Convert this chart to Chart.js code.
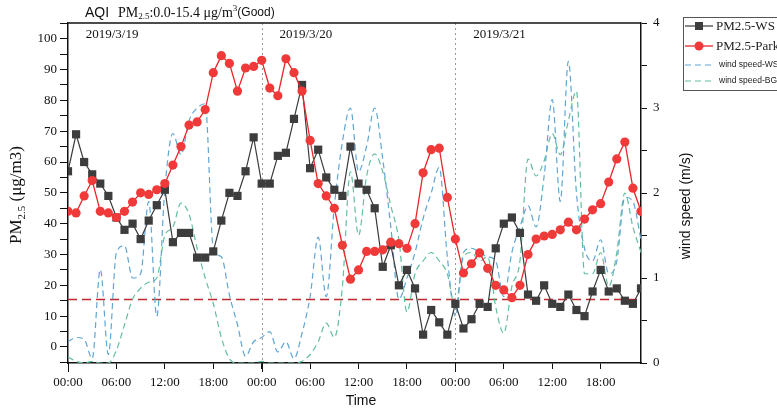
<!DOCTYPE html>
<html>
<head>
<meta charset="utf-8">
<script src="https://cdn.jsdelivr.net/npm/chart.js@4.4.1/dist/chart.umd.min.js"></script>
<style>
  html, body { margin: 0; padding: 0; background: #fff; }
</style>
</head>
<body>
<canvas id="aqiChart" width="777" height="409"></canvas>
<script>
// tick labels for the time axis (every 6 hours) and the three days
const hourLabels = ['00:00', '06:00', '12:00', '18:00'];
const dayLabels = ['2019/3/19', '2019/3/20', '2019/3/21'];
const goodLimit = 15.4; // PM2.5 upper bound of "Good"

// hourly PM2.5 (ug/m3), 3/19 00:00 .. 3/21 23:00
const pmWS = [
  57, 69, 60, 56, 53, 49, 42, 38, 40, 35, 41, 46, 51, 34, 37, 37, 29, 29, 31, 41, 50, 49, 57, 68,
  53, 53, 62, 63, 74, 85, 58, 64, 55, 51, 49, 65, 53, 51, 45, 26, 33, 20, 25, 19, 4, 12, 8, 4,
  14, 6, 9, 14, 13, 32, 40, 42, 37, 17, 15, 20, 14, 13, 17, 12, 10, 18, 25, 18, 19, 15, 14, 19
];
const pmPark = [
  44, 43.5, 49, 54, 44, 43.5, 42, 44, 47, 50, 49.5, 51, 53, 59, 65, 72, 73, 77, 89, 94.5, 92, 83, 90.5, 91,
  93, 84, 81.5, 93.5, 89, 83, 67, 53, 49, 45, 33, 22, 25, 31, 31, 31.5, 34, 33.5, 32, 40, 56.5, 64, 64.5, 48.5,
  35, 24, 27, 30.5, 25.5, 20, 18.5, 16, 20, 30, 35, 36, 36.5, 38, 40.5, 38, 41.5, 44.5, 46.5, 53.5, 61, 66.5, 51.5, 44
];

// hourly wind speed (m/s)
const windWS = [
  0.25, 0.3, 0.28, 0.05, 1.1, 0.1, 1.3, 1.38, 1.0, 1.05, 1.9, 0.55, 2.05, 2.7, 2.45, 2.85, 3.0, 3.05, 1.35, 1.25, 0.8, 0.45, 0.08, 0.25,
  0.3, 0.37, 0.13, 0.25, 0.05, 0.35, 0.78, 1.48, 0.78, 1.84, 2.6, 3.0, 2.25, 2.55, 3.0, 2.4, 1.6, 0.75, 1.0, 1.3, 1.7, 2.0, 2.3, 1.25,
  0.55, 1.3, 1.35, 1.3, 1.25, 1.2, 0.78, 1.3, 1.6, 1.85, 1.6, 2.2, 3.1, 1.9, 3.55, 2.0, 1.35, 1.2, 1.45, 1.05, 1.2, 1.95, 1.9, 1.45
];
const windBG = [
  0.07, 0.02, 0, 0.02, 0, 0, 0.15, 0.45, 0.75, 0.88, 0.95, 1.0, 1.5, 1.6, 1.88, 1.75, 1.35, 1.0, 0.7, 0.3, 0.05, 0, 0, 0,
  0.02, 0, 0, 0, 0, 0.02, 0.1, 0.25, 0.47, 0.3, 0.9, 2.25, 1.5, 2.2, 2.46, 2.25, 1.85, 1.45, 0.6, 1.05, 1.2, 1.3, 1.2, 1.05,
  0.65, 1.25, 1.3, 1.2, 1.25, 0.66, 0.35, 0.9, 1.2, 2.4, 2.2, 2.38, 2.7, 2.45, 2.85, 3.2, 1.05, 1.05, 1.3, 0.9, 1.3, 2.0, 1.6, 1.3
];

const SERIF = '"Liberation Serif", "Times New Roman", serif';
const SANS = '"Liberation Sans", Arial, sans-serif';

function toPoints(arr) {
  return arr.map((v, i) => ({ x: i, y: v }));
}

// draw a row of text pieces with their own font and vertical offset
function runsWidth(ctx, runs) {
  let w = 0;
  runs.forEach(r => { ctx.font = r[1]; w += ctx.measureText(r[0]).width; });
  return w;
}
function drawRuns(ctx, runs, x, y) {
  let cx = x;
  runs.forEach(r => {
    ctx.font = r[1];
    ctx.fillText(r[0], cx, y + (r[2] || 0));
    cx += ctx.measureText(r[0]).width;
  });
}

const decorations = {
  id: 'decorations',
  beforeDatasetsDraw(chart) {
    const { ctx, chartArea: a, scales: { x, y } } = chart;
    ctx.save();
    // dotted day dividers
    ctx.strokeStyle = '#999';
    ctx.lineWidth = 1;
    ctx.setLineDash([2, 3]);
    for (let d = 1; d < dayLabels.length; d++) {
      const px = Math.round(x.getPixelForValue(d * 24)) + 0.5;
      ctx.beginPath();
      ctx.moveTo(px, a.top);
      ctx.lineTo(px, a.bottom);
      ctx.stroke();
    }
    // "Good" limit
    const gy = y.getPixelForValue(goodLimit);
    ctx.strokeStyle = '#c0282d';
    ctx.lineWidth = 1.6;
    ctx.setLineDash([9, 5]);
    ctx.beginPath();
    ctx.moveTo(a.left, gy);
    ctx.lineTo(a.right, gy);
    ctx.stroke();
    ctx.restore();
  },
  afterDraw(chart) {
    const { ctx, chartArea: a, scales: { x } } = chart;
    ctx.save();
    ctx.fillStyle = '#111';
    ctx.strokeStyle = '#111';
    ctx.setLineDash([]);

    // top frame
    ctx.lineWidth = 1.5;
    ctx.beginPath();
    ctx.moveTo(a.left, a.top);
    ctx.lineTo(a.right, a.top);
    ctx.stroke();

    // longer ticks at midnight
    ctx.lineWidth = 1;
    for (let d = 0; d < dayLabels.length; d++) {
      const px = Math.round(x.getPixelForValue(d * 24)) + 0.5;
      ctx.beginPath();
      ctx.moveTo(px, a.bottom);
      ctx.lineTo(px, a.bottom + 9);
      ctx.stroke();
    }

    // date labels
    ctx.textBaseline = 'middle';
    ctx.textAlign = 'left';
    ctx.font = '13px ' + SERIF;
    dayLabels.forEach((lbl, d) => {
      ctx.fillText(lbl, x.getPixelForValue(d * 24 + 2.2), 35);
    });

    // title
    ctx.font = '14px ' + SANS;
    ctx.fillText('AQI', 85, 13);
    drawRuns(ctx, [
      ['PM', '14px ' + SERIF, 0],
      ['2.5', '9px ' + SERIF, 4],
      [':0.0-15.4 \u03bcg/m', '14px ' + SERIF, 0],
      ['3', '9px ' + SERIF, -4],
      ['(Good)', '12px ' + SANS, 0]
    ], 118, 13);

    // left axis title
    const leftRuns = [
      ['PM', '17px ' + SERIF, 0],
      ['2.5', '11px ' + SERIF, 5],
      [' (\u03bcg/m3)', '17px ' + SERIF, 0]
    ];
    ctx.save();
    ctx.translate(17, 195);
    ctx.rotate(-Math.PI / 2);
    drawRuns(ctx, leftRuns, -runsWidth(ctx, leftRuns) / 2, 0);
    ctx.restore();

    // right axis title
    ctx.save();
    ctx.translate(686, 206);
    ctx.rotate(-Math.PI / 2);
    ctx.textAlign = 'center';
    ctx.font = '14px ' + SANS;
    ctx.fillText('wind speed (m/s)', 0, 0);
    ctx.restore();

    // bottom axis title
    ctx.textAlign = 'center';
    ctx.font = '14px ' + SANS;
    ctx.fillText('Time', 361, 401);

    // legend
    ctx.textAlign = 'left';
    ctx.strokeStyle = '#555';
    ctx.lineWidth = 1;
    ctx.strokeRect(683.5, 17.5, 120, 73);
    const rows = [26, 46, 65, 81];
    chart.data.datasets.forEach((ds, i) => {
      const ry = rows[i];
      ctx.strokeStyle = ds.borderColor;
      ctx.lineWidth = ds.borderWidth;
      ctx.setLineDash(ds.borderDash || []);
      ctx.beginPath();
      ctx.moveTo(685, ry);
      ctx.lineTo(713, ry);
      ctx.stroke();
      ctx.setLineDash([]);
      ctx.fillStyle = ds.pointBackgroundColor || ds.borderColor;
      if (ds.pointStyle === 'rect') {
        ctx.fillRect(695, ry - 4, 8, 8);
      } else if (ds.pointRadius > 0) {
        ctx.beginPath();
        ctx.arc(699, ry, 4.5, 0, Math.PI * 2);
        ctx.fill();
      }
      ctx.fillStyle = '#222';
      if (i < 2) {
        ctx.font = '13px ' + SERIF;
        ctx.fillText(ds.label, 716, ry + 1);
      } else {
        ctx.font = '8.5px ' + SANS;
        ctx.fillText(ds.label, 719, ry);
      }
    });
    ctx.restore();
  }
};

const axisGrid = { drawOnChartArea: false, drawTicks: true, color: '#111', tickWidth: 1 };
const axisBorder = { display: true, color: '#111', width: 1.5 };

new Chart(document.getElementById('aqiChart').getContext('2d'), {
  type: 'line',
  data: {
    datasets: [
      {
        label: 'PM2.5-WS',
        data: toPoints(pmWS),
        yAxisID: 'y',
        borderColor: '#3a3a3a',
        borderWidth: 1.2,
        pointStyle: 'rect',
        pointRadius: 5.8,
        pointBackgroundColor: '#3d3d3d',
        pointBorderColor: '#3d3d3d',
        pointBorderWidth: 0,
        tension: 0,
        order: 1
      },
      {
        label: 'PM2.5-Park',
        data: toPoints(pmPark),
        yAxisID: 'y',
        borderColor: '#e8262a',
        borderWidth: 1.3,
        pointStyle: 'circle',
        pointRadius: 4.6,
        pointBackgroundColor: '#f03a3a',
        pointBorderColor: '#f03a3a',
        pointBorderWidth: 0,
        tension: 0,
        order: 0
      },
      {
        label: 'wind speed-WS',
        data: toPoints(windWS),
        yAxisID: 'y2',
        borderColor: '#5fa6d4',
        borderWidth: 1.2,
        borderDash: [6, 4],
        pointRadius: 0,
        cubicInterpolationMode: 'monotone',
        order: 2
      },
      {
        label: 'wind speed-BG',
        data: toPoints(windBG),
        yAxisID: 'y2',
        borderColor: '#62bf9c',
        borderWidth: 1.2,
        borderDash: [6, 4],
        pointRadius: 0,
        cubicInterpolationMode: 'monotone',
        order: 3
      }
    ]
  },
  options: {
    responsive: false,
    animation: false,
    devicePixelRatio: 1,
    layout: { padding: { top: 23, left: 0, right: 0, bottom: 0 } },
    plugins: { legend: { display: false }, tooltip: { enabled: false } },
    scales: {
      x: {
        type: 'linear',
        min: 0,
        max: 71,
        grid: { ...axisGrid, tickLength: 6 },
        border: axisBorder,
        ticks: {
          stepSize: 6,
          includeBounds: false,
          maxRotation: 0,
          autoSkip: false,
          padding: 6,
          color: '#111',
          font: { family: SERIF, size: 13 },
          callback: v => hourLabels[(v / 6) % 4]
        },
        afterFit: s => { s.height = 46; }
      },
      y: {
        position: 'left',
        min: -5.2,
        max: 105.1,
        grid: { ...axisGrid, tickLength: 8 },
        border: axisBorder,
        ticks: {
          stepSize: 5,
          includeBounds: false,
          autoSkip: false,
          padding: 3,
          color: '#111',
          font: { family: SERIF, size: 13 },
          callback: v => (v % 10 === 0 ? v : '')
        },
        afterFit: s => { s.width = 68; }
      },
      y2: {
        position: 'right',
        min: 0,
        max: 4,
        grid: { ...axisGrid, tickLength: 6 },
        border: axisBorder,
        ticks: {
          stepSize: 0.5,
          autoSkip: false,
          padding: 6,
          color: '#111',
          font: { family: SERIF, size: 13 },
          callback: v => (Number.isInteger(v) ? v : '')
        },
        afterFit: s => { s.width = 136; }
      }
    }
  },
  plugins: [decorations]
});
</script>
</body>
</html>
